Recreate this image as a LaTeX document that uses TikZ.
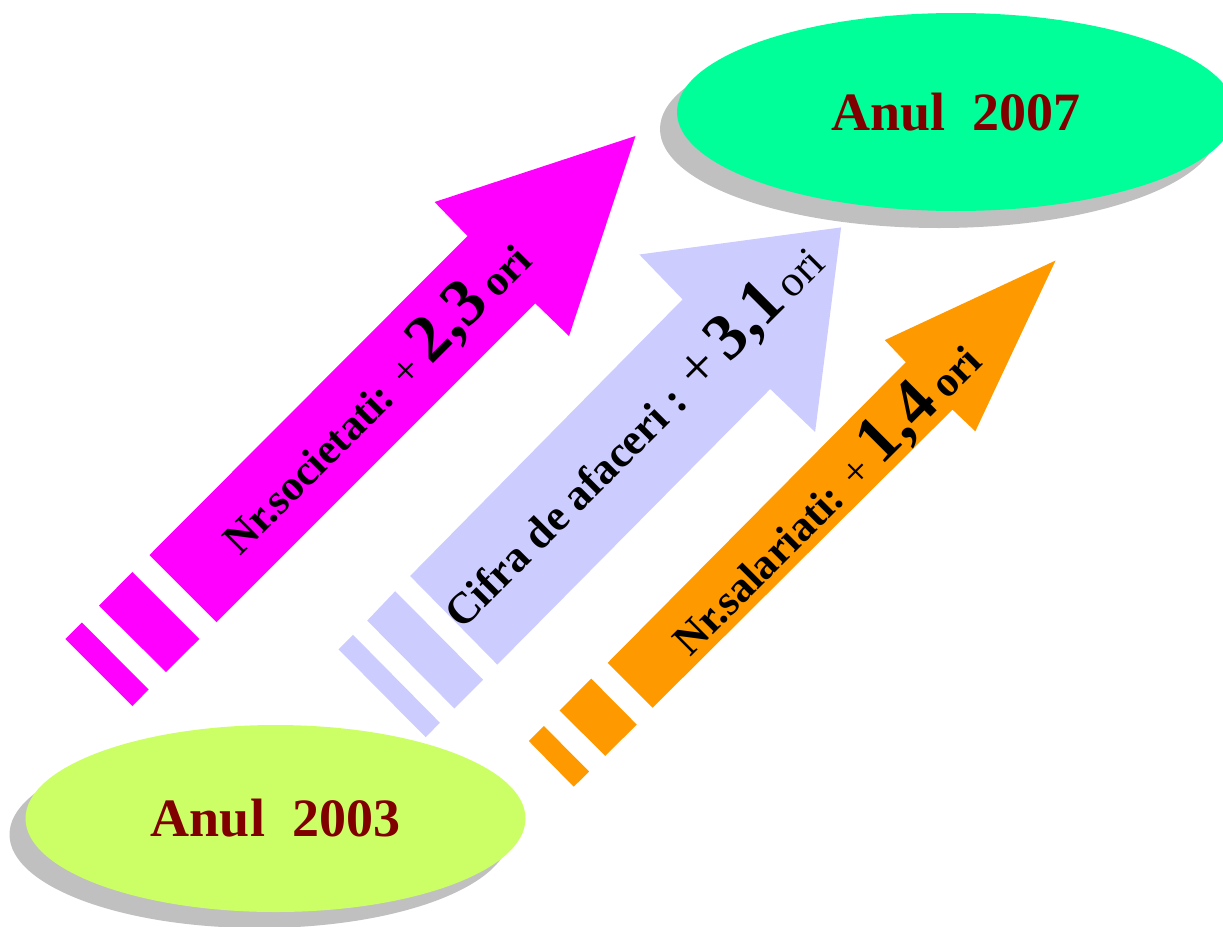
\documentclass[tikz,border=0pt]{standalone}
\usepackage{fontspec}
\setmainfont{Liberation Serif}
\usetikzlibrary{shapes.geometric}
\definecolor{cMag}{HTML}{FF00FF}
\definecolor{cLav}{HTML}{CCCCFF}
\definecolor{cOra}{HTML}{FF9900}
\definecolor{cGreen}{HTML}{00FF99}
\definecolor{cLime}{HTML}{CCFF66}
\definecolor{cShadow}{HTML}{C0C0C0}
\definecolor{cYear}{HTML}{800000}
\newcommand\myfs[1]{\fontsize{#1}{#1}\selectfont}
\tikzset{
  yearoval/.style={ellipse, inner sep=0pt, text=cYear, font=\myfs{54}\bfseries},
  ovalshadow/.style={fill=cShadow},
  arrowlabel/.style={rotate=45, anchor=base west, inner sep=0pt, text=black}
}
\begin{document}
\begin{tikzpicture}[x=1pt,y=-1pt]
\useasboundingbox (0,0) rectangle (1223,926);

% ---- oval 2007 (top right)
\fill[ovalshadow] (939,129) ellipse [x radius=279pt, y radius=99pt];
\node[yearoval, fill=cGreen, minimum width=558pt, minimum height=198pt] (y2007) at (956,112) {Anul\ \ 2007};

% ---- magenta arrow
\fill[cMag] (65.3,639) -- (81.8,622.5) -- (148.7,689.5) -- (132.3,706) -- cycle;
\fill[cMag] (99,605.7) -- (132.3,572) -- (199.3,639) -- (166,672) -- cycle;
\fill[cMag] (149.5,555) -- (467.5,236) -- (434.6,202) -- (635.5,136) -- (569,336) -- (535.3,303.4) -- (216.5,622) -- cycle;

% ---- lavender arrow
\fill[cLav] (338.5,649.3) -- (353,634.8) -- (439.9,722.7) -- (425.7,737.2) -- cycle;
\fill[cLav] (367.2,620.6) -- (395.2,591.2) -- (483.1,679.8) -- (454.4,708.5) -- cycle;
\fill[cLav] (410.1,576) -- (682.6,299.4) -- (639.3,254.5) -- (841.1,227.4) -- (815.1,432) -- (770.2,389) -- (497.3,664.6) -- cycle;

% ---- orange arrow
\fill[cOra] (528.8,741) -- (543.9,726) -- (589.1,771.6) -- (573.7,786.7) -- cycle;
\fill[cOra] (559.6,710.5) -- (591.2,678.6) -- (636.8,724.6) -- (605.2,755.8) -- cycle;
\fill[cOra] (607.7,662.8) -- (905.8,362.2) -- (884.8,340.1) -- (1055.6,260.5) -- (975.3,431.3) -- (952.5,409.6) -- (652.6,707.7) -- cycle;

% ---- oval 2003 (bottom left)
\fill[ovalshadow] (259.5,834.5) ellipse [x radius=250pt, y radius=93.5pt];
\node[yearoval, fill=cLime, minimum width=500pt, minimum height=187pt] (y2003) at (275.5,818.5) {Anul\ \ 2003};

% ---- labels
\node[arrowlabel] (lsoc) at (240,557) {\myfs{43}\bfseries Nr.societati: {\mdseries +}\hspace{0.25em}{\myfs{67}2,3}\hspace{0.2em}ori};
\node[arrowlabel] (lcif) at (462,631) {\myfs{44}\bfseries Cifra de afaceri : {\mdseries\myfs{60}+}\hspace{0.2em}{\myfs{66}3,1}\hspace{0.15em}{\mdseries ori}};
\node[arrowlabel] (lsal) at (690,658) {\myfs{43}\bfseries Nr.salariati: {\mdseries +}\hspace{0.25em}{\myfs{67}1,4}\hspace{0.2em}ori};
\end{tikzpicture}
\end{document}
